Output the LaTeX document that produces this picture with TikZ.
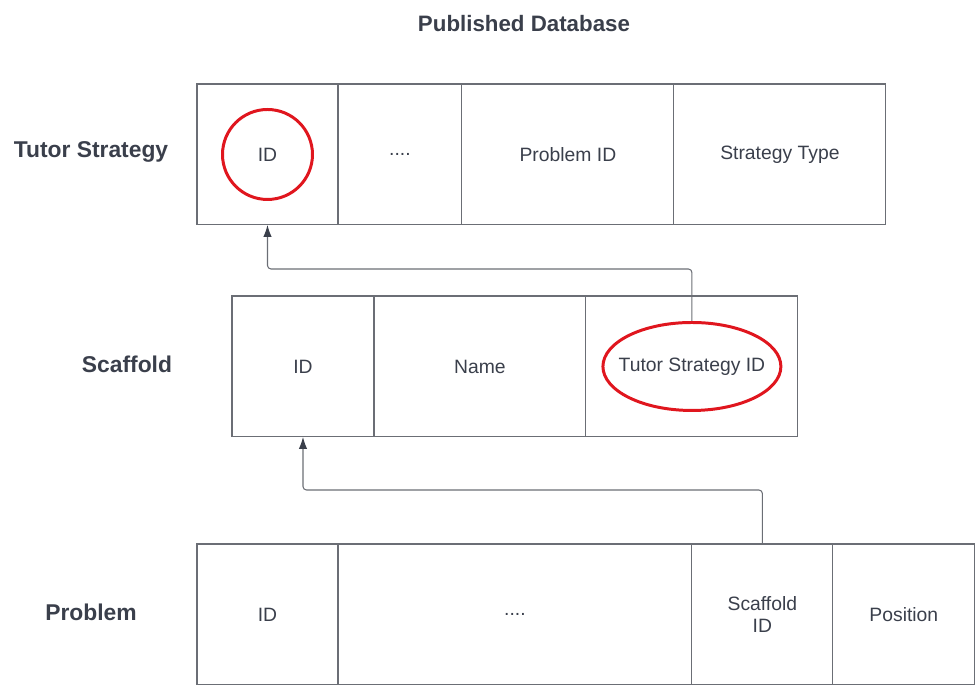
\documentclass[tikz,border=0pt]{standalone}
\usepackage{fontspec}
\setmainfont{Liberation Sans}
\usetikzlibrary{positioning,arrows.meta,shapes.geometric}
\definecolor{dbline}{HTML}{6B6E75}
\definecolor{dbtext}{HTML}{3A3F4B}
\definecolor{dbred}{HTML}{E0161E}
\tikzset{
  cell/.style    ={draw=dbline, line width=0.6pt, minimum height=2.82cm,
                   inner sep=0pt, outer sep=0pt, text=dbtext,
                   font=\fontsize{11}{13}\selectfont, align=center},
  tname/.style   ={font=\fontsize{13}{15}\selectfont\bfseries, text=dbtext},
  keyring/.style ={draw=dbred, line width=1.7pt, inner sep=0pt},
  fk/.style      ={-{Latex[length=2.4mm,width=1.7mm,color=dbtext]}, draw=dbline,
                   line width=0.6pt, rounded corners=2pt},
}
\begin{document}
\begin{tikzpicture}[x=0.02cm,y=-0.02cm]
  \useasboundingbox (0,0) rectangle (977,688);
  \node[font=\fontsize{12.7}{15}\selectfont\bfseries, text=dbtext] (title) at (524,24) {Published Database};

  % tutor strategy table
  \node[tname] (tslbl) at (91,152) {Tutor Strategy};
  \node[cell, minimum width=2.82cm, anchor=north west] (tsid) at (197,84) {ID};
  \node[cell, minimum width=2.48cm, right=0pt of tsid] (tsdots) {....};
  \node[cell, minimum width=4.24cm, right=0pt of tsdots] (tsprob) {Problem ID};
  \node[cell, minimum width=4.24cm, right=0pt of tsprob] (tstype) {Strategy Type};

  % scaffold table
  \node[tname] (sclbl) at (127,364) {Scaffold};
  \node[cell, minimum width=2.84cm, anchor=north west] (scid) at (232,296) {ID};
  \node[cell, minimum width=4.24cm, right=0pt of scid] (scname) {Name};
  \node[cell, minimum width=4.24cm, right=0pt of scname] (sctsid) {Tutor Strategy ID};

  % problem table
  \node[tname] (prlbl) at (91,612) {Problem};
  \node[cell, minimum width=2.82cm, anchor=north west] (prid) at (197,544) {ID};
  \node[cell, minimum width=7.08cm, right=0pt of prid] (prdots) {....};
  \node[cell, minimum width=2.82cm, right=0pt of prdots] (prscid) {Scaffold\\ID};
  \node[cell, minimum width=2.84cm, right=0pt of prscid] (prpos) {Position};

  % keys
  \node[keyring, circle, minimum size=1.8cm] (tskey) at (tsid.center) {};
  \node[keyring, ellipse, minimum width=3.56cm, minimum height=1.76cm] (scfk) at (sctsid.center) {};

  \draw[fk] (scfk.north) -- ++(0,-52) -| (tsid.south);
  \draw[fk] (prscid.north) -- ++(0,-54) -| (scid.south);
\end{tikzpicture}
\end{document}
